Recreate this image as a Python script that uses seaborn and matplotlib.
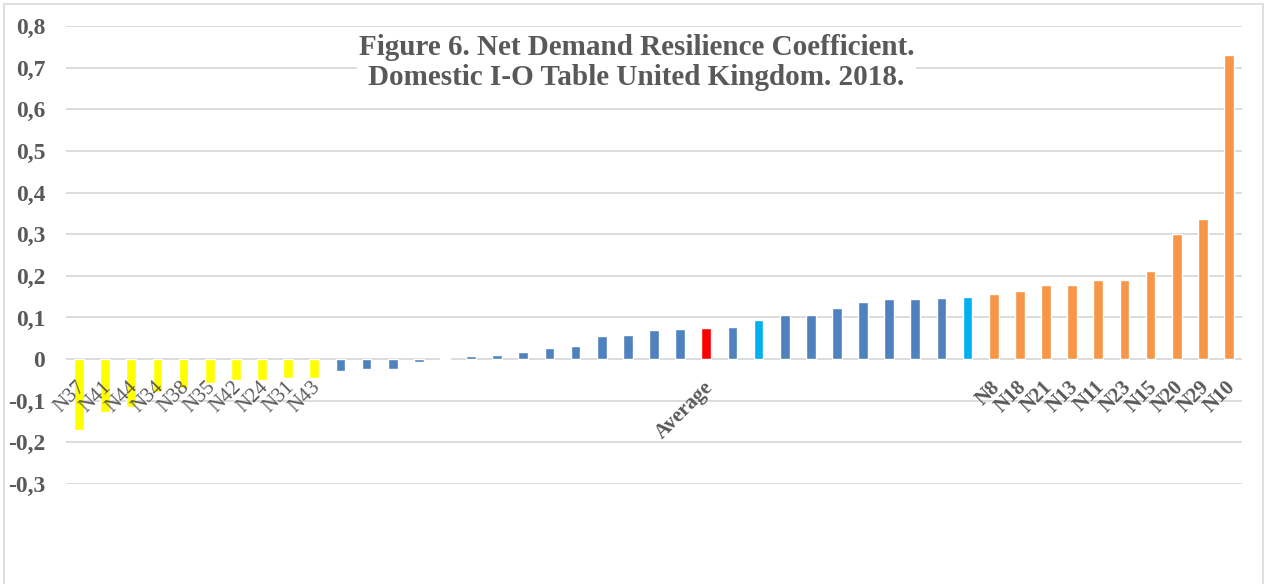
import numpy as np
import pandas as pd
import seaborn as sns
import matplotlib.pyplot as plt
from matplotlib.patches import Rectangle
from matplotlib.transforms import offset_copy

# sector labels, shown only for the tails and the average
labels = ['N37', 'N41', 'N44', 'N34', 'N38', 'N35', 'N42', 'N24', 'N31', 'N43',
          '', '', '', '', '', '', '', '', '', '', '', '', '', '', 'Average',
          '', '', '', '', '', '', '', '', '', '',
          'N8', 'N18', 'N21', 'N13', 'N11', 'N23', 'N15', 'N20', 'N29', 'N10']

low_vals = [-0.170, -0.126, -0.116, -0.078, -0.070, -0.058, -0.051, -0.051, -0.046, -0.046]
mid_vals = [-0.028, -0.024, -0.023, -0.006, 0.003, 0.007, 0.009, 0.016, 0.027, 0.032,
            0.055, 0.058, 0.070, 0.073, 0.075, 0.077, 0.093, 0.105, 0.106, 0.122,
            0.136, 0.145, 0.145, 0.147, 0.148]
high_vals = [0.157, 0.164, 0.178, 0.178, 0.190, 0.190, 0.212, 0.301, 0.337, 0.730]

# bar groups: low, mid, average, highlighted, high
groups = (['low'] * 10 + ['mid'] * 14 + ['avg'] + ['mid'] + ['light'] + ['mid'] * 7
          + ['light'] + ['high'] * 10)
group_colors = {'low': '#FFFF00', 'mid': '#4F81BD', 'avg': '#FF0000',
                'light': '#00B0F0', 'high': '#F79646'}

values = low_vals + mid_vals + high_vals
df = pd.DataFrame({'idx': np.arange(len(values)), 'value': values, 'group': groups})
pal = {i: group_colors[g] for i, g in zip(df['idx'], df['group'])}

sns.set_style('white')
plt.rcParams['font.family'] = ['Liberation Serif', 'DejaVu Serif']
grey = '#595959'

fig = plt.figure(figsize=(12.68, 5.84), dpi=100)
ax = fig.add_axes([66 / 1268, 1 - 484 / 584, (1242 - 66) / 1268, (484 - 26) / 584])

sns.barplot(data=df, x='idx', y='value', hue='idx', palette=pal, legend=False,
            width=0.37, saturation=1, ax=ax)

yticks = np.arange(-0.3, 0.81, 0.1)
ax.set_ylim(-0.3, 0.8)
ax.set_xlim(-0.5, len(values) - 0.5)
ax.set_yticks(yticks)
ax.set_yticklabels(['0' if abs(t) < 1e-9 else f'{t:.1f}'.replace('.', ',') for t in yticks])
ax.yaxis.grid(True, color='#D9D9D9', lw=1.3)
ax.set_axisbelow(True)
ax.tick_params(axis='y', length=0, pad=15, labelsize=17, labelcolor=grey)
for t in ax.get_yticklabels():
    t.set_fontweight('bold')
ax.set_xticks([])
ax.set_xlabel('')
ax.set_ylabel('')
sns.despine(ax=ax, left=True, bottom=True)

# category labels sit just under the zero line
lab_trans = offset_copy(ax.transData, fig=fig, x=-2.5, y=-13, units='points')
for i, lab in enumerate(labels):
    if not lab:
        continue
    weight = 'normal' if groups[i] == 'low' else 'bold'
    ax.text(i, 0, lab, transform=lab_trans, rotation=45, rotation_mode='anchor',
            ha='right', va='top', fontsize=15, color=grey, fontweight=weight)

ax.text(0.485, 0.92, 'Figure 6. Net Demand Resilience Coefficient.\nDomestic I-O Table United Kingdom. 2018.',
        transform=ax.transAxes, ha='center', va='center', fontsize=21,
        fontweight='bold', color=grey, linespacing=1.15,
        bbox=dict(facecolor='white', edgecolor='none', pad=1))

fig.patches.append(Rectangle((4 / 1268, -0.01), (1263 - 4) / 1268, 1.01 - 4 / 584,
                             transform=fig.transFigure, fill=False,
                             edgecolor='#D9D9D9', lw=1.2))

fig.savefig('out.png', dpi=100)
